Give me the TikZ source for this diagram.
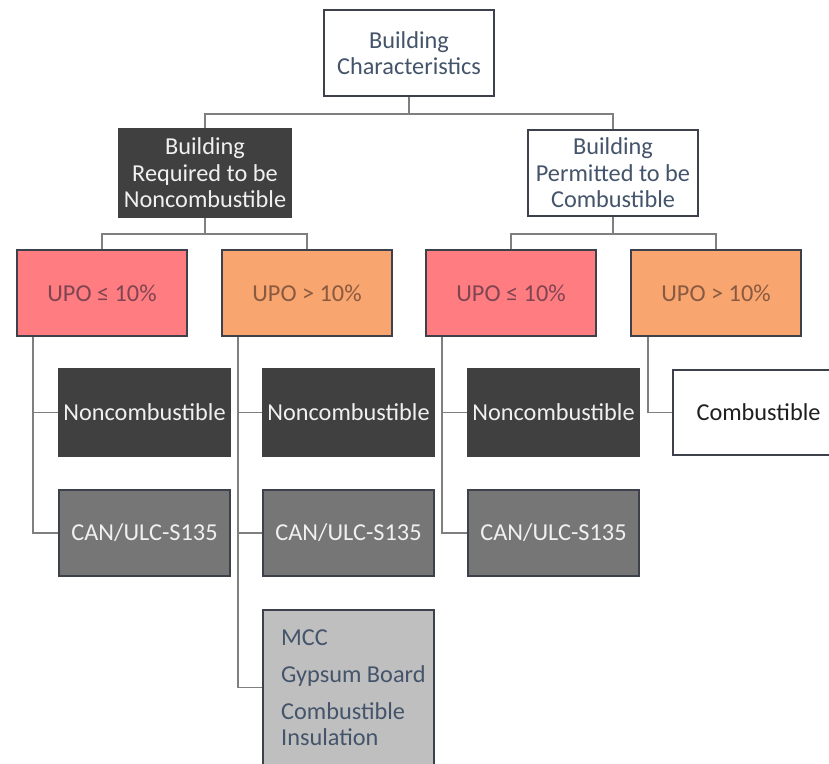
\documentclass[tikz,border=0pt]{standalone}
\usepackage{fontspec}
\setmainfont{Carlito}
\usetikzlibrary{calc}
\definecolor{pinkbox}{HTML}{FF7C80}
\definecolor{orangebox}{HTML}{F8A56F}
\definecolor{darkbox}{HTML}{404040}
\definecolor{midbox}{HTML}{767676}
\definecolor{lightbox}{HTML}{BFBFBF}
\definecolor{edgecol}{HTML}{3C414B}
\definecolor{linecol}{HTML}{7F7F7F}
\definecolor{slatetxt}{HTML}{44546A}
\definecolor{pinktxt}{HTML}{7F4552}
\definecolor{orangetxt}{HTML}{8A5A40}
\tikzset{
  base/.style={rectangle, draw=edgecol, line width=2.2pt, inner sep=0pt,
    minimum width=170pt, minimum height=86pt, align=center,
    font=\fontsize{24.3}{26.5}\selectfont},
  whitebox/.style={base, fill=white, text=slatetxt},
  darkbx/.style={base, fill=darkbox, draw=darkbox, text=white!94!black},
  midbx/.style={base, fill=midbox, text=white!94!black},
  pinkbx/.style={base, fill=pinkbox, text=pinktxt},
  orangebx/.style={base, fill=orangebox, text=orangetxt},
  lightbx/.style={base, fill=lightbox, minimum width=171pt, minimum height=175pt},
  listtext/.style={inner sep=0pt, align=left, text=slatetxt,
    font=\fontsize{24.3}{26.5}\selectfont},
  conn/.style={draw=linecol, line width=1.6pt},
}
\begin{document}
\begin{tikzpicture}[x=1pt,y=-1pt]
\useasboundingbox (0,0) rectangle (829,763);
\clip (0,0) rectangle (829,763);
% level 1
\node[whitebox] (root) at (409,53) {Building\\Characteristics};
% level 2
\node[darkbx, minimum width=172pt, minimum height=88pt] (req) at (205,173) {Building\\Required to be\\Noncombustible};
\node[whitebox] (perm) at (613,173) {Building\\Permitted to be\\Combustible};
% level 3
\node[pinkbx] (u1) at (102,293) {UPO ≤ 10\%};
\node[orangebx] (u2) at (307,293) {UPO > 10\%};
\node[pinkbx] (u3) at (511,293) {UPO ≤ 10\%};
\node[orangebx] (u4) at (716,293) {UPO > 10\%};
% level 4
\node[darkbx, minimum width=171pt, minimum height=87pt] (n1) at (144.5,412.5) {Noncombustible};
\node[darkbx, minimum width=171pt, minimum height=87pt] (n2) at (348.5,412.5) {Noncombustible};
\node[darkbx, minimum width=171pt, minimum height=87pt] (n3) at (553.5,412.5) {Noncombustible};
\node[whitebox, text=black!88, minimum width=171pt, minimum height=85pt] (c4) at (758.5,412.5) {Combustible};
\node[midbx, minimum width=171pt] (s1) at (144.5,533) {CAN/ULC-S135};
\node[midbx, minimum width=171pt] (s2) at (348.5,533) {CAN/ULC-S135};
\node[midbx, minimum width=171pt] (s3) at (553.5,533) {CAN/ULC-S135};
\node[lightbx] (m2) at (348.5,697.5) {};
\node[listtext, anchor=west] (m2text) at (281,687.5) {MCC\\[10.5pt]Gypsum Board\\[10.5pt]Combustible\\Insulation};
% connectors
\coordinate (m2in) at (m2.west |- m2text.west);
\draw[conn] (root.south) -- ++(0,17) coordinate (j0);
\draw[conn] (j0) -| (req.north);
\draw[conn] (j0) -| (perm.north);
\draw[conn] (req.south) -- ++(0,16) coordinate (j1);
\draw[conn] (j1) -| (u1.north);
\draw[conn] (j1) -| (u2.north);
\draw[conn] (perm.south) -- ++(0,17) coordinate (j2);
\draw[conn] (j2) -| (u3.north);
\draw[conn] (j2) -| (u4.north);
\draw[conn] ($(u1.south west)+(17,0)$) |- (n1.west);
\draw[conn] ($(u1.south west)+(17,0)$) |- (s1.west);
\draw[conn] ($(u2.south west)+(17,0)$) |- (n2.west);
\draw[conn] ($(u2.south west)+(17,0)$) |- (s2.west);
\draw[conn] ($(u2.south west)+(17,0)$) |- (m2in);
\draw[conn] ($(u3.south west)+(17,0)$) |- (n3.west);
\draw[conn] ($(u3.south west)+(17,0)$) |- (s3.west);
\draw[conn] ($(u4.south west)+(18,0)$) |- (c4.west);
\end{tikzpicture}
\end{document}
